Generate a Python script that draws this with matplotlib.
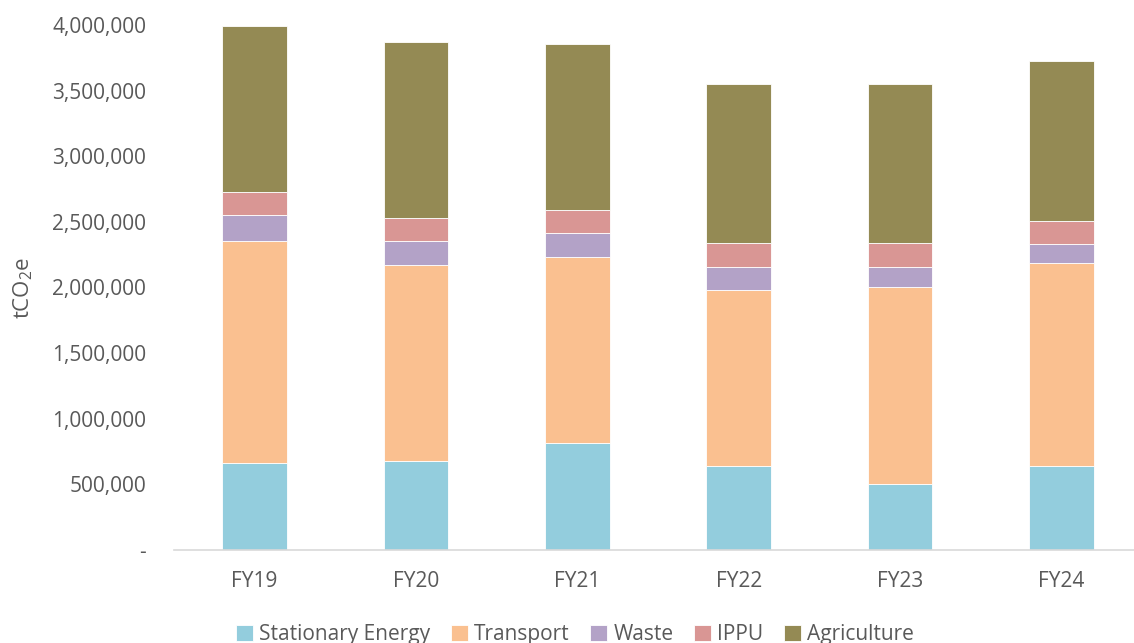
"""Stacked emissions by sector, FY19-FY24."""

import matplotlib.pyplot as plt
import numpy as np
from matplotlib.ticker import FuncFormatter

plt.rcParams["font.family"] = ["Open Sans", "DejaVu Sans"]
plt.rcParams["mathtext.fontset"] = "custom"
plt.rcParams["mathtext.rm"] = "Open Sans"
plt.rcParams["mathtext.it"] = "Open Sans"

years = ["FY19", "FY20", "FY21", "FY22", "FY23", "FY24"]
sectors = ["Stationary Energy", "Transport", "Waste", "IPPU", "Agriculture"]

stationary = [665000, 680000, 813000, 638000, 505000, 638000]
transport = [1687000, 1489000, 1419000, 1345000, 1501000, 1549000]
waste = [198000, 183000, 181000, 171000, 148000, 142000]
ippu = [178000, 178000, 177000, 183000, 185000, 180000]
agriculture = [1264000, 1338000, 1265000, 1213000, 1214000, 1214000]

colors = ["#93CDDD", "#FAC090", "#B3A2C7", "#D99694", "#948A54"]
text_color = "#595959"

fig = plt.figure(figsize=(11.34, 6.43), dpi=100)
ax = fig.add_axes([174 / 1134, 1 - 550 / 643, 1 - 174 / 1134, (550 - 25) / 643])

x = np.arange(len(years))
bottom = np.zeros(len(years))
for name, vals, col in zip(sectors, [stationary, transport, waste, ippu, agriculture], colors):
    ax.bar(x, vals, 0.4, bottom=bottom, color=col, edgecolor="white",
           linewidth=0.6, label=name)
    bottom += np.array(vals)

ax.set_xlim(-0.5, 5.45)
ax.set_ylim(0, 4000000)
ax.set_yticks(np.arange(0, 4000001, 500000))
ax.yaxis.set_major_formatter(FuncFormatter(lambda v, p: "-" if v == 0 else f"{v:,.0f}"))
ax.set_xticks(x)
ax.set_xticklabels(years)

for s in ["top", "right", "left"]:
    ax.spines[s].set_visible(False)
ax.spines["bottom"].set_color("#D9D9D9")
ax.spines["bottom"].set_linewidth(1.2)
ax.tick_params(axis="both", length=0, labelsize=15, colors=text_color)
ax.tick_params(axis="y", pad=20)
ax.tick_params(axis="x", pad=15)

ax.set_ylabel("tCO$_2$e", fontsize=16, color=text_color, labelpad=12)

fig.legend(loc="center", bbox_to_anchor=(0.507, 0.013), ncol=5, frameon=False,
           fontsize=15, labelcolor=text_color, handlelength=0.8, handleheight=0.8,
           columnspacing=1.0, handletextpad=0.3)

fig.savefig("out.png", dpi=100)
